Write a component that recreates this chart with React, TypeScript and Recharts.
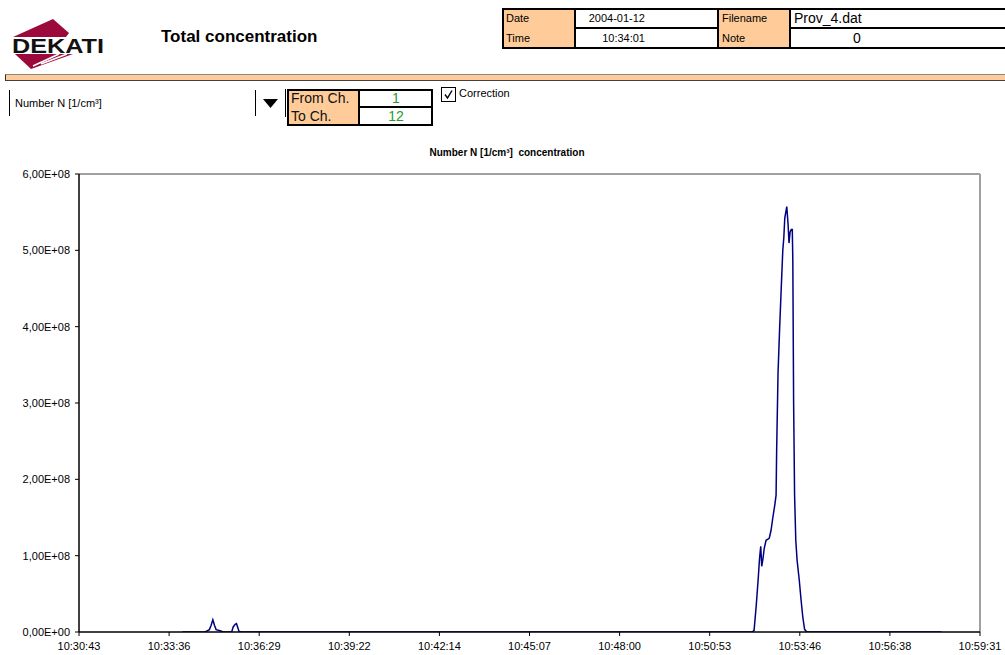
import React from "react";
import { LineChart, Line, XAxis, YAxis, ReferenceLine } from "recharts";

// Seconds elapsed since 10:30:43 (the left end of the time axis)
const timeSec = [
  198, 220, 242, 250, 253.4, 256.7, 259.8, 263, 270.7, 276.5,
  292.8, 295.7, 299.5, 302, 304.3, 306.8, 310.1, 600, 900, 1200,
  1291.2, 1294.7, 1298.9, 1302.7, 1305.2, 1307.5, 1309.4, 1311.9, 1314.2, 1317.7,
  1323.8, 1327.3, 1330.5, 1334.4, 1336.9, 1338.0, 1339.2, 1340.7, 1343.6, 1346.5,
  1349.8, 1351.7, 1353.6, 1357.4, 1359.9, 1361.7, 1363.8, 1366.1, 1368.0, 1369.0,
  1370.5, 1372.4, 1374.7, 1377.2, 1381.4, 1384.9, 1388.2, 1391.6, 1395.8, 1420,
  1500, 1600, 1654,
];

// Number concentration N [1/cm³]
const numberConc = [
  0, 0, 0, 3.1e6, 8.8e6, 1.6e7, 8.8e6, 3.1e6, 1.6e6, 0,
  0, 6.6e6, 1.0e7, 1.1e7, 6.2e6, 1.0e6, 0, 0, 0, 0,
  0, 2.2e6, 3.5e7, 7.04e7, 9.66e7, 1.123e8, 8.61e7, 9.66e7, 1.097e8, 1.202e8,
  1.228e8, 1.333e8, 1.49e8, 1.661e8, 1.792e8, 2.382e8, 2.841e8, 3.404e8, 3.955e8, 4.453e8,
  5.004e8, 5.161e8, 5.423e8, 5.574e8, 5.344e8, 5.095e8, 5.24e8, 5.272e8, 5.272e8, 4.873e8,
  3.037e8, 1.792e8, 1.202e8, 9.4e7, 6.78e7, 4.16e7, 1.93e7, 3.5e6, 0, 0,
  0, 0, 0,
];

const xTickLabels = [
  "10:30:43", "10:33:36", "10:36:29", "10:39:22", "10:42:14", "10:45:07",
  "10:48:00", "10:50:53", "10:53:46", "10:56:38", "10:59:31",
];
const xTickStep = 172.8;
const xTicks = xTickLabels.map((_, i) => i * xTickStep);
const xMax = xTicks[xTicks.length - 1];

const yTickLabels = [
  "0,00E+00", "1,00E+08", "2,00E+08", "3,00E+08", "4,00E+08", "5,00E+08", "6,00E+08",
];
const yTicks = [0, 1e8, 2e8, 3e8, 4e8, 5e8, 6e8];

const data = timeSec.map((t, i) => ({ t, n: numberConc[i] }));

const FONT = "'Liberation Sans', Arial, sans-serif";
const ORANGE = "#FFCC99";

const abs = (s: React.CSSProperties): React.CSSProperties => ({ position: "absolute", ...s });

function Logo() {
  return (
    <svg width={110} height={75} style={abs({ left: 0, top: 0 })}>
      <polygon points="13,37 53,19 69,33 66,37" fill="#9B0A3A" />
      <polygon points="15,54 73,54 31,69" fill="#9B0A3A" />
      <line x1={33} y1={66} x2={59} y2={54} stroke="#fff" strokeWidth={1.8} />
      <line x1={41} y1={64} x2={67} y2={54} stroke="#fff" strokeWidth={1.8} />
      <text
        x={12}
        y={53}
        fontFamily={FONT}
        fontWeight="bold"
        fontSize={20}
        textLength={92}
        lengthAdjust="spacingAndGlyphs"
        fill="#111"
      >
        DEKATI
      </text>
    </svg>
  );
}

function InfoTable() {
  const txt = (s: React.CSSProperties): React.CSSProperties => ({
    position: "absolute",
    fontFamily: FONT,
    whiteSpace: "nowrap",
    lineHeight: "1",
    ...s,
  });
  return (
    <>
      {/* orange cells */}
      <div style={abs({ left: 503, top: 9, width: 72, height: 39, background: ORANGE })} />
      <div style={abs({ left: 718, top: 9, width: 72, height: 39, background: ORANGE })} />
      {/* outer borders */}
      <div style={abs({ left: 502, top: 8, width: 503, height: 2, background: "#000" })} />
      <div style={abs({ left: 502, top: 47, width: 503, height: 2, background: "#000" })} />
      <div style={abs({ left: 502, top: 8, width: 2, height: 41, background: "#000" })} />
      {/* inner vertical lines */}
      <div style={abs({ left: 574, top: 8, width: 2, height: 41, background: "#000" })} />
      <div style={abs({ left: 717, top: 8, width: 2, height: 41, background: "#000" })} />
      <div style={abs({ left: 789, top: 8, width: 2, height: 41, background: "#000" })} />
      {/* row dividers in white cells */}
      <div style={abs({ left: 575, top: 27, width: 143, height: 2, background: "#000" })} />
      <div style={abs({ left: 790, top: 27, width: 215, height: 2, background: "#000" })} />
      <div style={txt({ left: 506, top: 13, fontSize: 11 })}>Date</div>
      <div style={txt({ left: 506, top: 33, fontSize: 11 })}>Time</div>
      <div style={txt({ left: 580, width: 65, textAlign: "right", top: 13, fontSize: 11 })}>2004-01-12</div>
      <div style={txt({ left: 580, width: 65, textAlign: "right", top: 33, fontSize: 11 })}>10:34:01</div>
      <div style={txt({ left: 722, top: 13, fontSize: 11 })}>Filename</div>
      <div style={txt({ left: 722, top: 33, fontSize: 11 })}>Note</div>
      <div style={txt({ left: 794, top: 11, fontSize: 14 })}>Prov_4.dat</div>
      <div style={txt({ left: 853, top: 31, fontSize: 14 })}>0</div>
    </>
  );
}

function Controls() {
  const txt = (s: React.CSSProperties): React.CSSProperties => ({
    position: "absolute",
    fontFamily: FONT,
    whiteSpace: "nowrap",
    lineHeight: "1",
    ...s,
  });
  return (
    <>
      {/* orange separator bar */}
      <div
        style={abs({
          left: 5,
          top: 74,
          width: 1000,
          height: 5,
          background: ORANGE,
          borderTop: "1px solid #8a8a8a",
          borderBottom: "1px solid #404040",
          borderLeft: "1px solid #303030",
        })}
      />
      {/* selector field */}
      <div style={abs({ left: 9, top: 90, width: 1, height: 26, background: "#000" })} />
      <div style={txt({ left: 15, top: 98, fontSize: 11 })}>Number N [1/cm³]</div>
      <div style={abs({ left: 255, top: 90, width: 1, height: 26, background: "#000" })} />
      <svg width={20} height={14} style={abs({ left: 261, top: 97 })}>
        <polygon points="2,2 17,2 9.5,11" fill="#000" />
      </svg>
      <div style={abs({ left: 285, top: 89, width: 1, height: 28, background: "#000" })} />
      {/* channel table */}
      <div style={abs({ left: 288, top: 90, width: 71, height: 35, background: ORANGE })} />
      <div style={abs({ left: 287, top: 89, width: 146, height: 2, background: "#000" })} />
      <div style={abs({ left: 287, top: 124, width: 146, height: 2, background: "#000" })} />
      <div style={abs({ left: 287, top: 89, width: 2, height: 37, background: "#000" })} />
      <div style={abs({ left: 431, top: 89, width: 2, height: 37, background: "#000" })} />
      <div style={abs({ left: 358, top: 89, width: 2, height: 37, background: "#000" })} />
      <div style={abs({ left: 359, top: 106, width: 73, height: 2, background: "#000" })} />
      <div style={txt({ left: 291, top: 91, fontSize: 14, color: "#111" })}>From Ch.</div>
      <div style={txt({ left: 291, top: 109, fontSize: 14, color: "#111" })}>To Ch.</div>
      <div style={txt({ left: 360, width: 72, textAlign: "center", top: 91, fontSize: 14, color: "#2a992a" })}>1</div>
      <div style={txt({ left: 360, width: 72, textAlign: "center", top: 109, fontSize: 14, color: "#2a992a" })}>12</div>
      {/* checkbox */}
      <svg width={18} height={18} style={abs({ left: 440, top: 86 })}>
        <rect x={1.5} y={1.5} width={14} height={14} fill="#fff" stroke="#000" strokeWidth={1} />
        <polyline points="5,8.5 7.5,12 12,4.5" fill="none" stroke="#000" strokeWidth={1.4} />
      </svg>
      <div style={txt({ left: 459, top: 88, fontSize: 11 })}>Correction</div>
    </>
  );
}

export default function App() {
  return (
    <div
      style={abs({
        left: 0,
        top: 0,
        width: 1005,
        height: 655,
        background: "#fff",
        overflow: "hidden",
        fontFamily: FONT,
      })}
    >
      <Logo />
      <div
        style={abs({
          left: 161,
          top: 28,
          fontSize: 17,
          fontWeight: "bold",
          fontFamily: FONT,
          lineHeight: "1",
          whiteSpace: "nowrap",
        })}
      >
        Total concentration
      </div>
      <InfoTable />
      <Controls />
      <div
        style={abs({
          left: 407,
          width: 200,
          top: 148,
          textAlign: "center",
          fontSize: 10,
          fontWeight: "bold",
          fontFamily: FONT,
          lineHeight: "1",
          whiteSpace: "pre",
        })}
      >
        {"Number N [1/cm³]  concentration"}
      </div>
      <div style={abs({ left: 0, top: 0 })}>
        <LineChart
          width={1005}
          height={655}
          data={data}
          margin={{ top: 174, right: 25, bottom: 3, left: 19 }}
        >
          <ReferenceLine y={6e8} stroke="#a0a0a0" strokeWidth={2} />
          <ReferenceLine x={xMax} stroke="#a0a0a0" strokeWidth={2} />
          <XAxis
            dataKey="t"
            type="number"
            domain={[0, xMax]}
            ticks={xTicks}
            interval={0}
            height={20}
            tickSize={4}
            tickMargin={6}
            tickFormatter={(_v: number, i: number) => xTickLabels[i]}
            axisLine={{ stroke: "#000", strokeWidth: 1.5 }}
            tickLine={{ stroke: "#000" }}
            tick={{ fill: "#000", fontSize: 11, fontFamily: FONT }}
            allowDataOverflow
          />
          <YAxis
            type="number"
            domain={[0, 6e8]}
            ticks={yTicks}
            interval={0}
            width={60}
            tickSize={4}
            tickMargin={5}
            tickFormatter={(_v: number, i: number) => yTickLabels[i]}
            axisLine={{ stroke: "#000", strokeWidth: 1.5 }}
            tickLine={{ stroke: "#000" }}
            tick={{ fill: "#000", fontSize: 11, fontFamily: FONT }}
            allowDataOverflow
          />
          <Line
            type="linear"
            dataKey="n"
            stroke="#000080"
            strokeWidth={1.5}
            dot={false}
            isAnimationActive={false}
          />
        </LineChart>
      </div>
    </div>
  );
}
